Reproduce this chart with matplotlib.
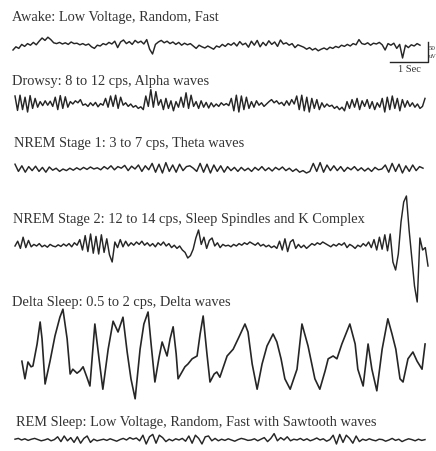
import numpy as np
import matplotlib
matplotlib.use('Agg')
import matplotlib.pyplot as plt

# EEG traces, values in uV (positive = up)
awake_uv = [-10, -2, -6, 4, -1, 6, 2, 9, 3, 12,
            20, 14, 22, 16, 8,
            6, 9, 5, 8, 4, 10, 6, 7, 3, 6, 2, 5, -2, -6,
            2, 0, 6, 3, 9, 5, 12, -4, 10, 15, 6, 11, 4, 14, 8,
            12, 5, 16, -8, -20, 4, 10,
            14, 8, 12, 6, 10, 4, 9, 2, 7, 3, 6, 0, -6, 2,
            -2, -5, 0, -4, -8, 0, -3,
            4, -1, 6, 2, 8, 0, 11, 3, 7, -3, 12, 2, 14, -2, 9, 1, 13, 4, 10, -1, 15, 5, 8, 2, 6, -4, 3, 0,
            -3, -8, -4, -10, -6, -12, -8, -5, -9, -3,
            -6, -1, -4, 2, -1, 4, 0, 6, 3, 16,
            6, 4, 8, 2, 7, 5, 9, 3, -10, 6, 2, 7, -6, 4,
            -30, 2, -4, 3, 0, 6, 2]

drowsy_uv = [20, -16, 22, -14, 17, -20, 21, -11, 14, -8,
             6, -4, 8, -3, 7, -6,
             17, -14, 21, -11, 18, -8,
             6, 0, 8, 3, 11, -3,
             0, -6, 3, -4, 4, -7, 1, -3,
             14, -8, 20, -6, 22, -11, 17, -3,
             3, -6, 0, -8, -4, -11, -7, -14,
             20, -6, 36, -8, 31, -3,
             11, -14, 14, -11, 8, -17, 6, -8,
             17, -8, 28, -11, 22, -6,
             6, -11, 8, -8, 4, -10, 3, -7, 0, -6, 3, -3, 1, -4,
             14, -17, 22, -20, 20, -14, 17, -11,
             6, -8, 8, -3, 3, -6, 0, 6, 11, 3, 8, 0, 4, -4,
             8, -3, 11, 0,
             20, -14, 22, -17, 17, -20, 14, -11, 11, -14,
             3, -8, 0, -6, -3, -11, -6, -14, -8, -17,
             6, -11, 11, -8, 14, -14, 8, -6, 11, -11, 6, -14, 3, -8,
             14, -20, 17, -14, 20, -11, 14, -17, 11, -8, 8, -6,
             3, -8, 0, -11, -6, 14]

nrem1_uv = [12, -6, 8, -8, 6, -4, 7, -6, 4, -8, 5, -3, 2,
            -6, 0, -4, 2, -3, 3, -2, 4, -1, 5, 0, 3,
            -2, 6, 0, 8, -2, 6, 2, 9, -4, 7, 0, 10, -6, 8, -2,
            14, -8, 12, -10, 16, -6, 10, -8, 12, -4, 6, 8, 2,
            -6, 14, -8, 12, -10, 10, -6, 8, -8, 6, -4, 4, -6,
            4, -4, 2, -6, 4, -3, 6, -4, 3, -5, 4, -2, 5, -4, 2, -6, 0, -8,
            -4, -10, -6,
            14, -6, 16, -8, 10, -4,
            8, -4, 6, -6, 4, -2, 6, -4, 3, -5, 2, -6, 4, -2, 0,
            10, -8, 14, -6, 12, -10, 8, -6, 10, -4, 6, 2]

nrem2_uv = [0, 12, -6, 22, -4, 14,
            -2, 4, 0, 6, -2, 2, -3, 4, 0, -2, 3, -1, 5, 0, 6, -2, 8, 2,
            16, -10, 26, -14, 30, -18, 24, -20, 28, -16, 18, -22, -40,
            10, -4, 16, -2, 12, 0, 8, 2,
            10, 4, 12, 2, 8, 0, 6, -2, 8, 2, 10, 0, 6, -4, 2, -6, 0, -10, -16, -30,
            -24, -8, 20, 40,
            4, 22, -6, 14, 20, 0, 8, -4, 4,
            0, 2, -2, 4, 0, 6, 2, 8, 4, 10, 6, 2, 8, 0, 4, -2, 2, -4, 0, -6,
            12, -10, 18, -14, 10, 16, -6, 4,
            -4, 2, -6, 0, 6, 2, 8, 4, 10, 6, 2,
            -2, 4, 0, 6, 2, 8, -4, 4, 0, -6, 2, -2, 6, 0, 10,
            -4, 16, -10, 22, -8, 28, -12, 30, -40,
            -60, -20, 60, 110, 125, 40, -30, -100, -140, 20, -10, -4, -50]

# delta sleep: slow waves, read as (time in s, uV) points
delta_t = [0.05, 0.13, 0.21, 0.29, 0.34, 0.45, 0.53, 0.58, 0.66, 0.79,
           0.92, 1.05, 1.13, 1.24, 1.32, 1.39, 1.50, 1.58, 1.66, 1.76,
           1.84, 1.97, 2.08, 2.18, 2.32, 2.45, 2.58, 2.71, 2.82, 2.92,
           3.03, 3.16, 3.26, 3.37, 3.45, 3.55, 3.66, 3.74, 3.87, 3.95,
           4.03, 4.11, 4.16, 4.34, 4.42, 4.53, 4.66, 4.74, 4.82, 4.92,
           5.00, 5.11, 5.18, 5.26, 5.45, 5.61, 5.76, 5.92, 6.00, 6.11,
           6.24, 6.37, 6.50, 6.66, 6.76, 6.87, 6.97, 7.11, 7.29, 7.42,
           7.58, 7.76, 7.89, 8.03, 8.11, 8.24, 8.34, 8.47, 8.68, 8.82,
           8.89, 9.03, 9.16, 9.26, 9.39, 9.53, 9.68, 9.79, 9.89, 10.00,
           10.08, 10.21, 10.34, 10.45, 10.58, 10.66]
delta_uv = [-18, -62, -20, -32, -30, 25, 80, 38, -75, -18,
            45, 92, 112, 38, -50, -38, -48, -42, -32, -58,
            -80, 75, -12, -88, 12, 82, 55, 92, 5, -62,
            -112, 12, 75, 105, 25, -70, -8, 30, -5, 38,
            68, 0, -62, -32, -25, -12, -5, 50, 95, 0,
            -70, -50, -45, -58, -5, 12, 42, 75, 55, -25,
            -88, -25, 20, 50, 30, -12, -62, -88, -38, 75,
            20, -62, -88, -42, -12, -5, -12, 25, 75, 25,
            -38, -80, 25, -38, -92, 12, 88, 50, 12, -62,
            -70, -12, 5, -18, -38, 25]

rem_uv = [2, 4, 0, 3, -1, 2, 4, 1, -2, 0, 3, -2, 1,
          8, -4, 10, -2, 6, -6,
          8, -8, 4, 10, -6, 2,
          -2, 0, 2, -1, 3, 0, -3, 1, 4, 0, 6, 2, 5, -2,
          12, -10, 8, 14, -8, 12, 6, -4,
          2, -2, 3, 0, 4, -3,
          10, -8, 12, 4, -10, 8, 10, -2, 4,
          -2, 2, -1, 3, 0, -3, 1, 4, 2, -1, 0, 3, -2, 2,
          6, -4, 4, 16, -2, 6, 0, 8, -2,
          2, 0, 4, -1, 3, -2, 1, 5, 0, 3, -3, 1,
          12, -10, 14, -6, 12, 4, -8, 10, -4,
          2, -1, 3, 0, -2, 2, 1, -3, 0, 4, -1, 2, -4, 0, 3, 1, -2, 2, -1, 1]

titles = ['Awake: Low Voltage, Random, Fast',
          'Drowsy: 8 to 12 cps, Alpha waves',
          'NREM Stage 1: 3 to 7 cps, Theta waves',
          'NREM Stage 2: 12 to 14 cps, Sleep Spindles and K Complex',
          'Delta Sleep: 0.5 to 2 cps, Delta waves',
          'REM Sleep: Low Voltage, Random, Fast with Sawtooth waves']

# layout in pixels
PX_PER_UV = 0.4
PX_PER_SEC = 38
title_pos = [(12, 17), (12, 81), (14, 144), (13, 220), (12, 303), (16, 423)]
# (x start, x end, baseline)
trace_pos = [(13, 420, 47), (15, 425, 105), (15, 423, 170),
             (15, 428, 247), (20, None, 355), (15, 425, 441)]

ink = '#262626'
fig = plt.figure(figsize=(4.36, 4.52), dpi=100)
ax = fig.add_axes([0, 0, 1, 1])
ax.set_xlim(0, 436)
ax.set_ylim(452, 0)
ax.axis('off')

for (tx, ty), title in zip(title_pos, titles):
    ax.text(tx, ty, title, family='Liberation Serif', fontsize=10.4,
            color='#333333', va='center', ha='left')

traces = [awake_uv, drowsy_uv, nrem1_uv, nrem2_uv, None, rem_uv]
for vals, (x0, x1, base) in zip(traces, trace_pos):
    if vals is None:
        x = x0 + np.array(delta_t) * PX_PER_SEC
        y = base - np.array(delta_uv) * PX_PER_UV
        ax.plot(x, y, '-', color=ink, linewidth=1.2, clip_on=False)
        continue
    x = np.linspace(x0, x1, len(vals))
    y = base - np.array(vals) * PX_PER_UV
    ax.plot(x, y, '-', color=ink, linewidth=1.05, clip_on=False)

# calibration bar: 50 uV / 1 sec
bar_x, bar_y = 428, 63
ax.plot([bar_x - PX_PER_SEC, bar_x, bar_x], [bar_y, bar_y, bar_y - 50 * PX_PER_UV],
        '-', color=ink, linewidth=1.0)
ax.text(bar_x + 0.5, bar_y - 15, '50', family='Liberation Serif', fontsize=5,
        color='#333333', va='center', ha='left')
ax.text(bar_x + 0.5, bar_y - 7, 'uV', family='Liberation Serif', fontsize=4.6,
        color='#333333', va='center', ha='left')
ax.text(bar_x - PX_PER_SEC / 2, bar_y + 7, '1 Sec', family='Liberation Serif',
        fontsize=7.5, color='#333333', va='center', ha='center')

fig.savefig('out.png', dpi=100, facecolor='white')
